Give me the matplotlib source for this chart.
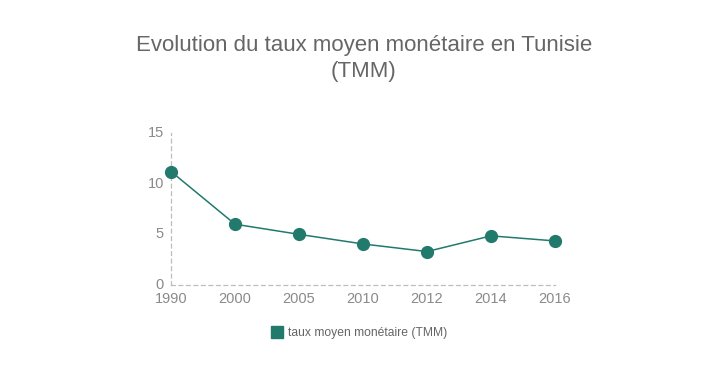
import matplotlib

matplotlib.use("Agg")
import matplotlib.pyplot as plt  # noqa: E402
from matplotlib.lines import Line2D  # noqa: E402

years = ["1990", "2000", "2005", "2010", "2012", "2014", "2016"]
tmm = [11.2, 6.0, 5.0, 4.05, 3.3, 4.85, 4.35]
series_label = "taux moyen monétaire (TMM)"
title = "Evolution du taux moyen monétaire en Tunisie\n(TMM)"

plt.rcParams["font.family"] = ["Liberation Sans", "DejaVu Sans"]
teal = "#217a6c"
grey = "#8a8a8a"

fig = plt.figure(figsize=(7.28, 3.8), dpi=100)
ax = fig.add_axes([0.2349, 0.25, 0.5275, 0.40])
x = list(range(len(years)))
ax.plot(x, tmm, color=teal, lw=1.1, marker="o", ms=8.5, mfc=teal, mec=teal, zorder=3)

ax.set_xlim(0, len(years) - 1)
ax.set_ylim(0, 15)
ax.set_yticks([0, 5, 10, 15])
ax.set_xticks(x)
ax.set_xticklabels(years)
for s in ("top", "right"):
    ax.spines[s].set_visible(False)
for s in ("left", "bottom"):
    ax.spines[s].set_linestyle((0, (3, 3)))
    ax.spines[s].set_color("#bdbdbd")
    ax.spines[s].set_linewidth(0.9)
ax.tick_params(length=0, labelsize=10.5, colors=grey)
ax.tick_params(axis="x", pad=5)
ax.tick_params(axis="y", pad=5)
for lbl in ax.get_yticklabels():
    lbl.set_verticalalignment("center")
for art in ax.lines:
    art.set_clip_on(False)

fig.text(0.5, 0.846, title, ha="center", va="center", fontsize=16,
         color="#666666", linespacing=1.35)

handle = Line2D([], [], marker="s", ls="", ms=9, mfc=teal, mec=teal)
fig.legend([handle], [series_label], loc="center", bbox_to_anchor=(0.493, 0.123),
           frameon=False, fontsize=8.7, labelcolor="#666666", handletextpad=0.3,
           handlelength=1.2)

fig.savefig("out.png", dpi=100)
